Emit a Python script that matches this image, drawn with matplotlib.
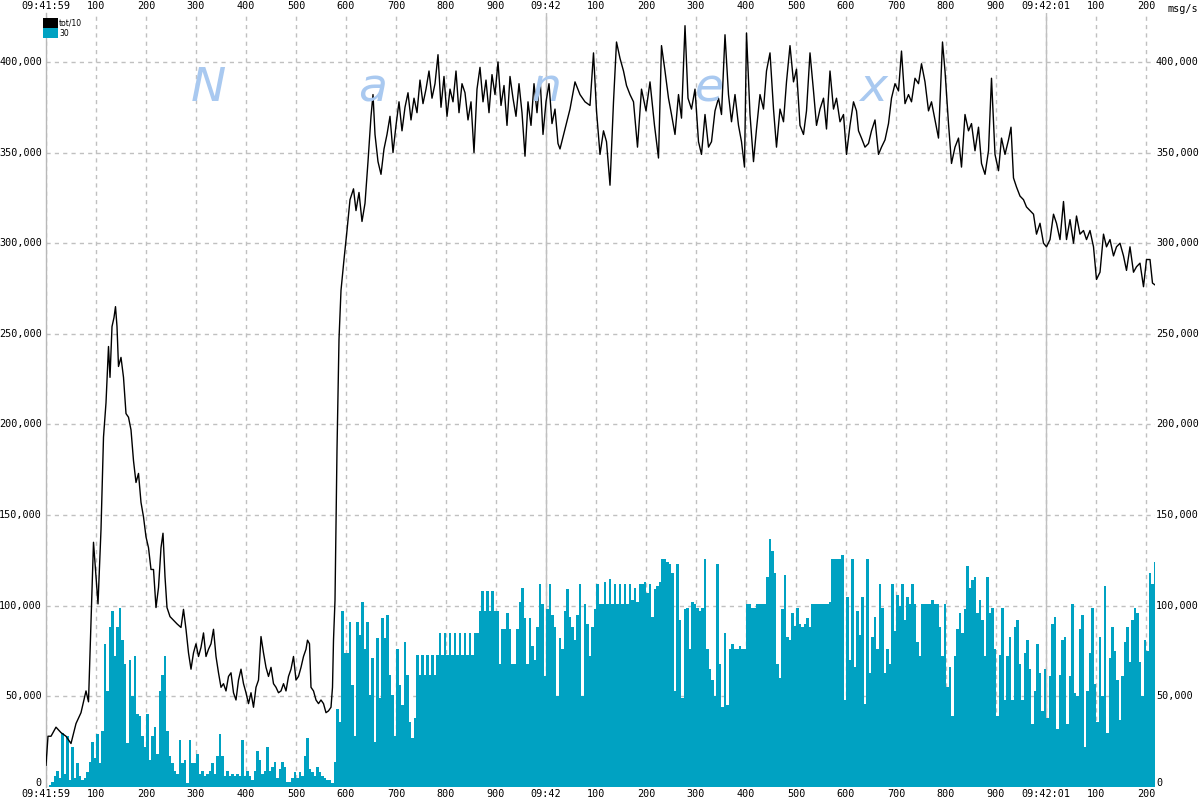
import matplotlib
matplotlib.use("Agg")
import matplotlib.pyplot as plt
from matplotlib.patches import Rectangle
from matplotlib.ticker import FuncFormatter, MultipleLocator
from matplotlib.transforms import ScaledTranslation

# tot/10 line, msg/s in thousands, sampled at irregular ms offsets from 09:41:59
line_ms = [0, 4, 10, 20, 30, 40, 50, 60, 70, 80, 85, 90, 95, 100, 104, 110, 115, 120, 125, 128,
           132, 136, 139, 142, 145, 150, 155, 160, 165, 170, 175, 180, 185, 190, 195, 200, 205, 210, 215, 220,
           225, 230, 234, 238, 242, 248, 255, 262, 270, 275, 280, 285, 290, 295, 300, 305, 310, 315, 320, 325,
           330, 335, 340, 345, 350, 355, 360, 365, 370, 375, 380, 385, 390, 395, 400, 405, 410, 415, 420, 425,
           430, 435, 440, 445, 450, 455, 460, 465, 470, 475, 480, 485, 490, 495, 500, 505, 510, 515, 520, 523,
           527, 530, 535, 540, 545, 550, 555, 560, 565, 570, 573, 575, 578, 582, 586, 590, 596, 602, 608, 615,
           620, 626, 632, 638, 644, 650, 654, 658, 664, 670, 676, 682, 688, 694, 700, 706, 712, 718, 724, 730,
           736, 742, 748, 754, 760, 766, 772, 778, 784, 790, 796, 802, 808, 814, 820, 826, 832, 838, 844, 850,
           856, 862, 868, 874, 880, 886, 892, 898, 904, 910, 916, 922, 928, 934, 940, 946, 952, 958, 964, 970,
           976, 982, 988, 994, 1000, 1006, 1012, 1018, 1024, 1028, 1038, 1048, 1058, 1068, 1078, 1088, 1095, 1101, 1108,
           1115, 1121, 1128, 1135, 1141, 1148, 1155, 1161, 1168, 1175, 1183, 1191, 1200, 1208, 1217, 1225, 1231, 1238, 1245, 1251,
           1258, 1265, 1271, 1278, 1284, 1291, 1298, 1305, 1311, 1318, 1325, 1331, 1338, 1345, 1351, 1358, 1365, 1371, 1378, 1385,
           1391, 1397, 1401, 1408, 1415, 1421, 1428, 1435, 1441, 1448, 1455, 1461, 1468, 1475, 1481, 1488, 1495, 1501, 1508, 1515,
           1521, 1528, 1535, 1541, 1548, 1555, 1561, 1568, 1575, 1581, 1588, 1595, 1601, 1608, 1615, 1621, 1625, 1631, 1638, 1645,
           1651, 1658, 1665, 1671, 1678, 1685, 1691, 1698, 1705, 1711, 1718, 1725, 1731, 1738, 1745, 1751, 1758, 1765, 1771, 1778,
           1785, 1793, 1798, 1805, 1811, 1818, 1825, 1831, 1838, 1845, 1851, 1858, 1865, 1871, 1878, 1885, 1891, 1898, 1905, 1911,
           1918, 1925, 1930, 1935, 1941, 1948, 1955, 1961, 1968, 1975, 1981, 1988, 1995, 2001, 2008, 2015, 2021, 2028, 2035, 2041,
           2048, 2055, 2061, 2068, 2075, 2081, 2088, 2095, 2101, 2108, 2115, 2121, 2128, 2135, 2141, 2148, 2155, 2161, 2168, 2175,
           2181, 2188, 2195, 2201, 2208, 2213, 2218]
line_k = [12, 28, 28, 33, 30, 28, 24, 35, 41, 53, 47, 92, 135, 116, 101, 142, 193, 212, 243, 226,
          254, 259, 265, 254, 232, 237, 226, 206, 204, 197, 180, 168, 173, 157, 149, 138, 132, 120, 120, 99,
          110, 132, 140, 116, 99, 94, 92, 90, 88, 98, 87, 74, 65, 74, 79, 72, 77, 85, 72, 76,
          79, 87, 72, 63, 55, 57, 53, 61, 63, 52, 48, 59, 65, 57, 52, 46, 52, 44, 55, 59,
          83, 74, 66, 61, 66, 57, 55, 52, 53, 57, 53, 61, 65, 72, 59, 61, 66, 72, 76, 81,
          79, 55, 53, 48, 46, 48, 46, 41, 42, 44, 55, 81, 103, 186, 247, 274, 291, 307, 324, 330,
          318, 328, 312, 322, 345, 370, 382, 360, 345, 338, 352, 360, 370, 350, 365, 378, 362, 375, 383, 368,
          380, 372, 390, 377, 385, 395, 380, 388, 404, 375, 392, 370, 385, 378, 395, 372, 388, 383, 368, 378,
          350, 385, 397, 378, 390, 372, 393, 382, 400, 376, 387, 365, 392, 380, 370, 388, 372, 348, 378, 365,
          388, 372, 392, 360, 378, 388, 366, 374, 355, 352, 363, 374, 389, 382, 378, 376, 405, 373, 349,
          362, 356, 332, 378, 411, 402, 395, 387, 382, 378, 353, 385, 373, 389, 365, 347, 409, 395, 380, 371,
          360, 382, 369, 420, 380, 374, 385, 356, 349, 371, 353, 356, 373, 380, 371, 415, 382, 367, 382, 365,
          356, 342, 416, 371, 345, 363, 382, 374, 395, 405, 374, 353, 374, 367, 389, 409, 389, 396, 365, 360,
          373, 405, 384, 365, 374, 380, 363, 395, 374, 380, 367, 371, 349, 365, 378, 373, 362, 358, 353, 355,
          362, 368, 349, 353, 357, 366, 380, 388, 384, 406, 377, 382, 378, 391, 388, 399, 389, 373, 378, 368,
          358, 411, 395, 366, 344, 353, 358, 342, 371, 362, 366, 351, 364, 344, 338, 351, 391, 349, 340, 358,
          349, 357, 364, 336, 331, 326, 324, 320, 318, 316, 305, 311, 300, 298, 302, 316, 311, 302, 323, 302,
          313, 300, 315, 305, 307, 302, 307, 298, 280, 284, 305, 298, 302, 293, 298, 300, 293, 285, 298, 284,
          287, 289, 276, 291, 291, 278, 277]

# "30" bars, msg/s in thousands, one bar per 5 ms
bar_step = 5
bar_k = [0, 1, 3, 6, 9, 5, 30, 7, 28, 4, 22, 5, 13, 6, 4, 5, 8, 14, 25, 16,
         29, 13, 31, 79, 53, 88, 97, 72, 88, 99, 81, 68, 24, 70, 50, 72, 40, 39, 28, 22,
         40, 15, 28, 33, 18, 53, 62, 72, 31, 17, 13, 9, 7, 26, 13, 15, 2, 26, 13, 13,
         18, 7, 9, 6, 7, 9, 13, 7, 17, 29, 17, 6, 9, 6, 7, 6, 7, 6, 26, 6,
         9, 6, 4, 9, 20, 15, 7, 9, 22, 9, 11, 14, 5, 10, 14, 11, 3, 3, 5, 8,
         5, 8, 6, 17, 27, 10, 8, 6, 11, 8, 6, 5, 4, 4, 2, 14, 43, 36, 97, 74,
         74, 91, 56, 28, 91, 84, 102, 76, 91, 51, 71, 25, 82, 49, 93, 82, 95, 62, 51, 28,
         76, 56, 45, 80, 62, 36, 27, 38, 73, 62, 73, 62, 73, 62, 73, 62, 73, 85, 73, 85,
         73, 85, 73, 85, 73, 85, 73, 85, 73, 85, 73, 85, 85, 97, 108, 97, 108, 97, 108, 97,
         97, 68, 87, 87, 96, 87, 68, 68, 87, 102, 110, 93, 68, 93, 78, 70, 88, 112, 101, 61,
         98, 112, 95, 88, 50, 82, 76, 97, 109, 94, 88, 81, 95, 112, 50, 101, 90, 72, 88, 98,
         112, 101, 101, 113, 101, 115, 101, 112, 101, 112, 101, 112, 101, 112, 103, 110, 102, 112, 112, 113,
         107, 112, 94, 109, 111, 113, 126, 126, 124, 123, 118, 53, 123, 92, 49, 98, 99, 76, 102, 101,
         99, 97, 99, 126, 76, 65, 59, 50, 123, 68, 44, 85, 45, 76, 79, 76, 76, 78, 76, 76,
         101, 101, 99, 99, 101, 101, 101, 101, 116, 137, 130, 118, 68, 60, 98, 117, 83, 81, 96, 89,
         99, 90, 88, 90, 93, 88, 101, 101, 101, 101, 101, 101, 101, 102, 126, 126, 126, 126, 128, 48,
         105, 70, 126, 66, 97, 84, 105, 46, 126, 63, 83, 94, 76, 112, 99, 63, 76, 68, 112, 86,
         106, 100, 112, 92, 105, 101, 112, 101, 80, 72, 101, 101, 101, 101, 103, 101, 101, 88, 72, 101,
         55, 66, 39, 72, 87, 96, 85, 98, 122, 110, 114, 116, 96, 103, 92, 72, 116, 96, 99, 76,
         39, 73, 99, 48, 72, 83, 48, 88, 92, 68, 48, 74, 81, 65, 35, 53, 79, 63, 42, 65,
         38, 61, 90, 94, 32, 62, 81, 83, 35, 61, 101, 52, 50, 87, 95, 22, 53, 74, 99, 57,
         36, 83, 50, 111, 30, 71, 88, 75, 59, 37, 61, 80, 88, 69, 92, 99, 96, 69, 50, 81,
         75, 118, 112, 124]

legend_names = ["tot/10", "30"]
line_color = "black"
bar_color = "#00a2c2"

fig = plt.figure(figsize=(12, 8), dpi=100)
W, H = 1200, 800
ax = fig.add_axes([46 / W, 13 / H, (1155 - 46) / W, (787 - 13) / H])

bar_ms = [i * bar_step for i in range(len(bar_k))]
ax.bar(bar_ms, [v * 1000 for v in bar_k], width=bar_step, align="edge",
       color=bar_color, linewidth=0, antialiased=False, zorder=2)
ax.plot(line_ms, [v * 1000 for v in line_k], color=line_color, lw=1.0, zorder=3)

ax.set_xlim(0, 2218)
ax.set_ylim(0, 427000)

font = "DejaVu Sans Mono"
fs = 7.3

def xlab(v, pos):
    v = int(round(v))
    if v == 0:
        return "09:41:59"
    if v == 1000:
        return "09:42"
    if v == 2000:
        return "09:42:01"
    return str(v % 1000)

ax.xaxis.set_major_locator(MultipleLocator(100))
ax.xaxis.set_major_formatter(FuncFormatter(xlab))
ax.yaxis.set_major_locator(MultipleLocator(50000))
ax.tick_params(axis="x", top=True, labeltop=True, bottom=True, labelbottom=True,
               length=0, pad=1.5, labelsize=fs)
ax.tick_params(axis="y", left=False, labelleft=False, right=False, labelright=False, length=0)
for lab in ax.get_xticklabels():
    lab.set_fontfamily(font)

# y labels on both sides, the zero ones raised onto the baseline
ytr = ax.get_yaxis_transform()
px = 1 / 100
for v in range(0, 400001, 50000):
    txt = f"{v:,}"
    va = "baseline" if v == 0 else "center"
    dy = 1 * px if v == 0 else 0
    ax.text(0, v, txt, transform=ytr + ScaledTranslation(-4 * px, dy, fig.dpi_scale_trans),
            ha="right", va=va, fontsize=fs, family=font, clip_on=False)
    ax.text(1, v, txt, transform=ytr + ScaledTranslation(1 * px, dy, fig.dpi_scale_trans),
            ha="left", va=va, fontsize=fs, family=font, clip_on=False)

ax.grid(True, color="#c0c0c0", linestyle=(0, (3, 3)), linewidth=1, zorder=0)
ax.set_axisbelow(True)
for s in ["top", "right", "bottom"]:
    ax.spines[s].set_visible(False)
ax.spines["left"].set_color("#b8b8b8")
ax.spines["left"].set_linewidth(1)
for sec in [1000, 2000]:
    ax.axvline(sec, color="#c0c0c0", lw=1, zorder=1)

fig.text(1167 / W, 1 - 9 / H, "msg/s", fontsize=fs, family=font, va="center", ha="left")

# legend
for i, (name, c) in enumerate(zip(legend_names, [line_color, bar_color])):
    y0 = 18 + i * 10
    fig.add_artist(Rectangle((43 / W, 1 - (y0 + 10) / H), 15 / W, 10 / H,
                             transform=fig.transFigure, color=c, lw=0))
    fig.text(59 / W, 1 - (y0 + 5) / H, name, fontsize=5.5, family="DejaVu Sans",
             va="center", ha="left")

# watermark
for ch, xc in zip("Nanex", [208, 373, 546, 709, 873]):
    fig.text(xc / W, 1 - 101 / H, ch, fontsize=34, style="italic", color="#a9c9f0",
             ha="center", va="baseline", family="DejaVu Sans", zorder=1)

fig.savefig("out.png", dpi=100)
